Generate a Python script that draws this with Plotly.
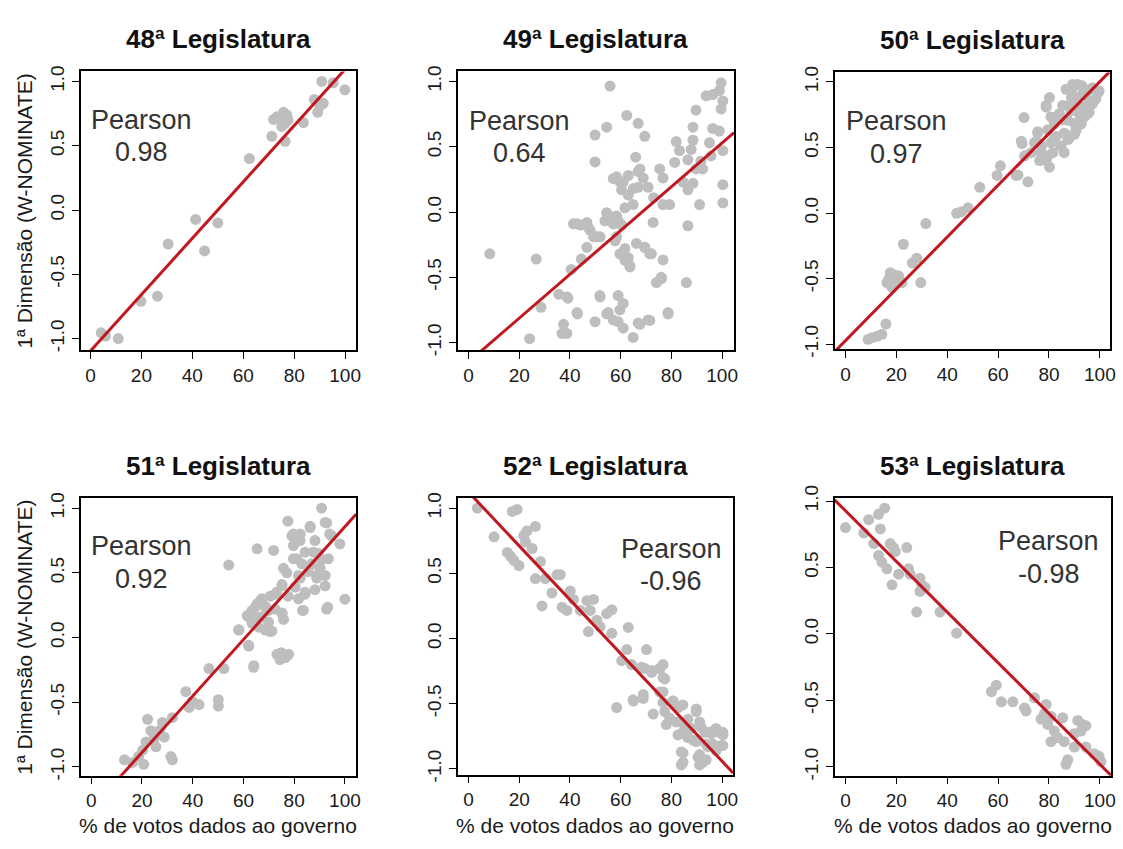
import plotly.graph_objects as go

# ---------------------------------------------------------------------------
# Data: % of votes given to the government (x) vs 1st W-NOMINATE dimension (y)
# ---------------------------------------------------------------------------
legislaturas = ["48ª Legislatura", "49ª Legislatura", "50ª Legislatura",
                "51ª Legislatura", "52ª Legislatura", "53ª Legislatura"]

pearson_r = [0.98, 0.64, 0.97, 0.92, -0.96, -0.98]

# regression line of each panel: y = intercept + slope * x
fit_intercept = [-1.096, -1.149, -0.973, -1.325, 1.124, 0.927]
fit_slope = [0.02191, 0.01679, 0.01975, 0.02182, -0.02066, -0.01907]

leg48_x = [4.2, 5.9, 10.9, 19.8, 26.3, 30.5, 41.3, 44.8, 50.0, 62.4, 71.2, 71.9,
           73.2, 75.8, 76.4, 75.1, 77.1, 76.4, 77.6, 83.6, 87.9, 89.2, 90.1, 90.8,
           91.4, 95.3, 99.9]
leg48_y = [-0.955, -0.98, -1.0, -0.71, -0.67, -0.265, -0.073, -0.318, -0.10, 0.40,
           0.573, 0.705, 0.725, 0.76, 0.675, 0.65, 0.74, 0.535, 0.70, 0.68, 0.86,
           0.76, 0.81, 1.0, 0.83, 0.99, 0.935]

leg49_x = [8.4, 26.7, 24.1, 28.6, 35.6, 39.2, 37.5, 38.8, 43.0, 36.9, 55.8, 49.9,
           54.5, 62.4, 66.9, 69.5, 49.9, 65.9, 58.4, 61.0, 66.9, 68.9, 60.4, 63.0,
           66.9, 70.8, 75.4, 76.7, 73.0, 76.7, 79.3, 64.9, 61.7, 54.5, 58.4, 57.1,
           53.8, 42.8, 46.7, 48.0, 50.6, 58.4, 61.7, 63.0, 63.6, 66.2, 69.5, 72.1,
           72.8, 76.7, 86.5, 74.1, 76.0, 85.9, 38.8, 51.8, 59.0, 61.0, 59.7, 42.8,
           49.9, 55.1, 57.1, 59.0, 61.0, 66.9, 70.8, 78.7, 64.9, 37.5, 99.6, 98.9,
           96.3, 93.7, 100.3, 99.6, 89.7, 88.5, 96.3, 98.9, 81.9, 88.5, 83.2, 87.8,
           95.0, 100.3, 91.6, 86.5, 84.6, 88.5, 89.7, 92.3, 100.3, 100.3, 91.1, 86.5,
           81.3, 95.6, 57.1, 59.7, 63.0, 65.0, 67.6, 56.5, 59.1, 60.4, 51.9, 57.8,
           59.7, 61.7, 63.7, 69.5, 71.5, 76.1, 78.7, 51.9, 54.5, 67.6, 71.5, 41.4,
           44.1, 47.3, 49.3, 46.7, 44.5, 40.5]
leg49_y = [-0.32, -0.36, -0.97, -0.73, -0.63, -0.66, -0.925, -0.93, -0.78, -0.93,
           0.965, 0.59, 0.65, 0.74, 0.68, 0.58, 0.384, 0.42, 0.27, 0.23, 0.31, 0.26,
           0.17, 0.13, 0.19, 0.19, 0.33, 0.26, 0.11, 0.057, 0.057, 0.057, 0.032,
           -0.005, -0.03, -0.09, -0.067, -0.09, -0.08, -0.14, -0.19, -0.19, -0.28,
           -0.35, -0.41, -0.24, -0.27, -0.32, -0.08, -0.367, -0.105, -0.54, -0.50,
           -0.54, -0.65, -0.64, -0.64, -0.70, -0.75, -0.77, -0.84, -0.77, -0.826,
           -0.84, -0.89, -0.85, -0.826, -0.77, -0.96, -0.86, 0.99, 0.93, 0.90, 0.89,
           0.85, 0.79, 0.78, 0.65, 0.64, 0.62, 0.54, 0.55, 0.47, 0.48, 0.53, 0.47,
           0.39, 0.40, 0.23, 0.22, 0.33, 0.33, 0.21, 0.07, 0.057, 0.17, 0.38, 0.43,
           0.256, 0.23, 0.28, 0.18, 0.33, -0.04, -0.07, -0.10, -0.19, -0.22, -0.32,
           -0.37, -0.42, -0.27, -0.32, -0.51, -0.78, -0.65, -0.78, -0.86, -0.83,
           -0.09, -0.10, -0.12, -0.19, -0.27, -0.36, -0.44]

leg50_x = [8.9, 10.4, 12.4, 14.3, 15.9, 17.0, 18.9, 17.6, 20.9, 16.3, 18.3, 19.6,
           22.2, 22.8, 26.3, 28.0, 29.6, 31.6, 43.7, 45.6, 48.2, 52.8, 59.6, 60.9,
           67.1, 70.2, 69.4, 71.7, 70.4, 73.0, 75.0, 75.6, 76.9, 78.9, 78.9, 80.2,
           79.5, 80.8, 82.1, 82.8, 84.1, 84.7, 86.0, 86.7, 87.4, 88.0, 88.7, 89.3,
           90.0, 91.3, 92.6, 93.2, 93.9, 95.2, 95.8, 97.1, 98.4, 99.7, 94.5, 85.4,
           83.4, 80.8, 90.6, 91.9, 81.5, 86.0, 87.4, 90.0, 92.6, 95.8, 78.9, 89.3,
           93.0, 96.1, 99.4, 88.8, 88.6, 85.4, 82.1, 75.6, 74.3, 69.1, 77.0, 79.5,
           82.1, 84.7, 88.0, 90.6, 92.6, 95.2, 97.1, 93.9, 76.3, 80.2, 67.8]
leg50_y = [-0.963, -0.95, -0.94, -0.925, -0.846, -0.505, -0.468, -0.455, -0.48,
           -0.53, -0.567, -0.505, -0.53, -0.238, -0.38, -0.344, -0.53, -0.08, -0.002,
           0.01, 0.04, 0.196, 0.287, 0.36, 0.287, 0.728, 0.53, 0.238, 0.436, 0.46,
           0.547, 0.61, 0.46, 0.40, 0.807, 0.88, 0.634, 0.535, 0.683, 0.584, 0.757,
           0.51, 0.609, 0.943, 0.708, 0.572, 0.832, 0.955, 0.683, 0.98, 0.807, 0.906,
           0.733, 0.93, 0.856, 0.955, 0.869, 0.93, 0.782, 0.82, 0.72, 0.733, 0.88,
           0.757, 0.46, 0.46, 0.56, 0.60, 0.68, 0.77, 0.82, 0.98, 0.97, 0.94, 0.92,
           0.88, 0.78, 0.71, 0.68, 0.62, 0.535, 0.548, 0.51, 0.436, 0.572, 0.51,
           0.585, 0.63, 0.68, 0.757, 0.832, 0.807, 0.40, 0.35, 0.29]

leg51_x = [13.1, 16.3, 20.7, 18.7, 21.6, 20.3, 22.2, 23.5, 24.8, 25.5, 26.8, 28.1,
           28.8, 31.4, 32.0, 32.0, 37.3, 38.6, 39.9, 42.5, 46.4, 50.1, 50.1, 52.3,
           54.2, 58.2, 62.1, 64.1, 62.1, 63.4, 64.7, 66.7, 65.4, 67.3, 68.6, 69.9,
           71.9, 70.6, 72.5, 73.2, 74.9, 76.5, 77.8, 75.2, 75.2, 75.8, 77.5, 79.1,
           79.7, 81.0, 82.4, 82.4, 83.3, 84.3, 86.3, 87.6, 88.9, 90.2, 90.8, 92.8,
           93.5, 93.2, 94.8, 98.0, 100.0, 86.3, 92.2, 79.7, 82.3, 88.2, 94.0, 84.3,
           89.5, 79.7, 83.0, 86.9, 90.8, 77.1, 81.7, 85.6, 88.9, 92.2, 92.2, 75.2,
           80.4, 84.3, 88.2, 81.7, 73.1, 77.6, 67.3, 70.6, 65.4, 63.4, 68.6, 72.5,
           75.2, 83.6, 92.8, 61.5, 64.7, 69.9, 75.8, 66.0, 71.2, 58.1, 62.0, 64.0,
           74.4]
leg51_y = [-0.945, -0.965, -0.98, -0.92, -0.807, -0.87, -0.632, -0.72, -0.78,
           -0.845, -0.72, -0.656, -0.77, -0.92, -0.945, -0.619, -0.418, -0.54,
           -0.494, -0.518, -0.24, -0.48, -0.53, -0.24, 0.56, 0.058, -0.066, -0.217,
           0.16, 0.11, 0.235, 0.285, 0.686, 0.16, 0.058, 0.21, 0.673, 0.046, 0.335,
           -0.13, -0.117, -0.155, -0.13, 0.185, 0.41, 0.535, 0.90, 0.786, 0.71, 0.61,
           0.80, 0.46, 0.21, 0.335, 0.86, 0.66, 0.46, 0.535, 1.0, 0.886, 0.61, 0.235,
           0.786, 0.724, 0.297, 0.85, 0.89, 0.80, 0.75, 0.75, 0.80, 0.66, 0.65, 0.61,
           0.57, 0.57, 0.60, 0.50, 0.48, 0.51, 0.48, 0.48, 0.40, 0.40, 0.39, 0.35,
           0.37, 0.30, 0.35, 0.32, 0.30, 0.32, 0.26, 0.21, 0.24, 0.22, 0.19, 0.21,
           0.22, 0.17, 0.16, 0.12, 0.14, 0.08, 0.05, 0.06, -0.06, -0.23, -0.17]

leg52_x = [3.5, 10.1, 17.3, 19.2, 15.3, 16.6, 17.9, 19.9, 21.8, 23.1, 26.4, 22.5,
           25.1, 26.4, 28.4, 29.0, 30.3, 32.9, 34.9, 36.2, 36.9, 38.8, 40.1, 41.4,
           44.1, 46.7, 48.0, 49.3, 47.3, 50.6, 51.9, 54.5, 56.5, 56.5, 63.0, 58.4,
           60.4, 62.4, 64.3, 65.0, 68.9, 70.2, 69.5, 72.2, 72.8, 75.4, 76.7, 77.4,
           75.4, 77.4, 79.3, 78.0, 80.7, 82.6, 83.9, 85.2, 83.9, 84.6, 86.5, 87.8,
           89.8, 89.8, 91.1, 91.1, 92.4, 93.1, 94.4, 95.7, 96.3, 97.6, 99.6, 100.3,
           68.2, 72.2, 75.4, 76.7, 64.9, 68.9, 76.7, 76.7, 80.6, 84.5, 89.8, 81.9,
           85.2, 86.5, 91.7, 95.0, 98.9, 100.3, 82.6, 88.5, 93.7, 100.3, 83.9, 90.5,
           93.7, 84.6, 91.1, 97.6]
leg52_y = [1.0, 0.78, 0.975, 0.99, 0.66, 0.63, 0.60, 0.56, 0.79, 0.825, 0.86, 0.74,
           0.69, 0.46, 0.59, 0.25, 0.46, 0.35, 0.49, 0.49, 0.24, 0.215, 0.365, 0.30,
           0.215, 0.29, 0.215, 0.30, 0.053, 0.14, 0.09, 0.19, 0.22, 0.04, 0.085,
           -0.53, -0.17, -0.085, -0.20, -0.48, -0.46, -0.085, -0.23, -0.26, -0.58,
           -0.23, -0.20, -0.31, -0.41, -0.56, -0.61, -0.66, -0.48, -0.53, -0.73,
           -0.66, -0.97, -0.88, -0.76, -0.69, -0.54, -0.79, -0.64, -0.89, -0.95,
           -0.72, -0.83, -0.73, -0.81, -0.69, -0.82, -0.72, -0.22, -0.245, -0.23,
           -0.30, -0.47, -0.43, -0.41, -0.49, -0.48, -0.51, -0.56, -0.64, -0.69,
           -0.62, -0.68, -0.72, -0.72, -0.74, -0.74, -0.78, -0.81, -0.82, -0.87,
           -0.91, -0.93, -0.95, -0.97, -0.86]

leg53_x = [0.0, 9.1, 7.2, 13.0, 15.4, 13.7, 11.1, 13.0, 14.3, 16.3, 17.6, 18.9,
           19.6, 18.3, 20.9, 24.1, 24.8, 25.4, 28.0, 29.3, 30.0, 29.3, 31.3, 37.2,
           43.7, 57.4, 59.3, 61.3, 65.8, 70.4, 74.3, 78.9, 76.9, 79.5, 80.8, 82.1,
           85.4, 87.4, 86.7, 90.0, 91.3, 93.2, 94.5, 92.6, 90.0, 94.5, 97.8, 99.7,
           100.4, 83.4, 86.0, 80.8, 78.2, 71.0]
leg53_y = [0.80, 0.86, 0.76, 0.90, 0.946, 0.79, 0.68, 0.59, 0.54, 0.49, 0.68, 0.65,
           0.62, 0.37, 0.45, 0.65, 0.49, 0.45, 0.165, 0.42, 0.37, 0.32, 0.35, 0.165,
           0.006, -0.434, -0.385, -0.51, -0.51, -0.556, -0.48, -0.53, -0.64, -0.68,
           -0.81, -0.73, -0.63, -0.946, -0.98, -0.75, -0.65, -0.68, -0.69, -0.73,
           -0.85, -0.85, -0.90, -0.92, -0.96, -0.78, -0.81, -0.62, -0.60, -0.58]

series_x = [leg48_x, leg49_x, leg50_x, leg51_x, leg52_x, leg53_x]
series_y = [leg48_y, leg49_y, leg50_y, leg51_y, leg52_y, leg53_y]

x_ticks = [0, 20, 40, 60, 80, 100]
y_ticks = [-1.0, -0.5, 0.0, 0.5, 1.0]
y_ticktext = ["-1.0", "-0.5", "0.0", "0.5", "1.0"]

# ---------------------------------------------------------------------------
# Layout of the 2 x 3 grid (pixel boxes of each plotting region)
# ---------------------------------------------------------------------------
W, H = 1123, 849
boxes = [(81, 358, 60, 346), (460, 738, 60, 346), (839, 1116, 61, 345),
         (81, 358, 498, 783), (460, 737, 498, 782), (839, 1117, 498, 783)]
x_ranges = [(-3.9, 104.3), (-4.3, 104.7), (-4.3, 104.0),
            (-4.2, 104.4), (-4.3, 104.3), (-4.3, 104.4)]
y_ranges = [(-1.089, 1.078), (-1.057, 1.077), (-1.037, 1.072),
            (-1.068, 1.078), (-1.045, 1.077), (-1.066, 1.022)]
# where the "Pearson" label and its value sit (data units)
label_pos = [(20, 0.70, 0.455), (20, 0.70, 0.45), (20, 0.70, 0.45),
             (20, 0.71, 0.45), (80, 0.69, 0.44), (80, 0.70, 0.45)]

FONT = "Liberation Sans, Arial, sans-serif"
POINT_COLOR = "#BEBEBE"
LINE_COLOR = "#C0181E"

fig = go.Figure()
layout = dict(
    width=W, height=H,
    margin=dict(l=0, r=0, t=0, b=0),
    paper_bgcolor="white", plot_bgcolor="white",
    showlegend=False,
    font=dict(family=FONT, color="#1a1a1a"),
)
annotations = []

for i in range(6):
    left, right, top, bottom = boxes[i]
    xa = "xaxis" if i == 0 else f"xaxis{i + 1}"
    ya = "yaxis" if i == 0 else f"yaxis{i + 1}"
    xref = "x" if i == 0 else f"x{i + 1}"
    yref = "y" if i == 0 else f"y{i + 1}"

    fig.add_trace(go.Scatter(
        x=series_x[i], y=series_y[i], mode="markers",
        marker=dict(color=POINT_COLOR, size=11, line=dict(width=0)),
        xaxis=xref, yaxis=yref, hoverinfo="x+y",
    ))

    x0, x1 = x_ranges[i]
    fig.add_trace(go.Scatter(
        x=[x0, x1],
        y=[fit_intercept[i] + fit_slope[i] * x0, fit_intercept[i] + fit_slope[i] * x1],
        mode="lines", line=dict(color=LINE_COLOR, width=3),
        xaxis=xref, yaxis=yref, hoverinfo="skip",
    ))

    layout[xa] = dict(
        domain=[left / W, right / W], anchor=yref, range=list(x_ranges[i]),
        tickmode="array", tickvals=x_ticks, ticks="outside", ticklen=7,
        tickwidth=1.3, tickcolor="black", showline=True, linecolor="black",
        linewidth=1.5, mirror=True, showgrid=False, zeroline=False,
        tickfont=dict(size=19, color="#1a1a1a"),
    )
    layout[ya] = dict(
        domain=[1 - bottom / H, 1 - top / H], anchor=xref, range=list(y_ranges[i]),
        tickmode="array", tickvals=y_ticks, ticktext=y_ticktext, ticks="outside",
        ticklen=7, tickwidth=1.3, tickcolor="black", tickangle=-90,
        showline=True, linecolor="black", linewidth=1.5, mirror=True,
        showgrid=False, zeroline=False, tickfont=dict(size=19, color="#1a1a1a"),
    )

    # panel title
    annotations.append(dict(
        text=f"<b>{legislaturas[i]}</b>", xref="paper", yref="paper",
        x=(left + right) / 2 / W, y=1 - (top - 33) / H,
        xanchor="center", yanchor="middle", showarrow=False,
        font=dict(size=26, color="#111111", family=FONT),
    ))

    # correlation label
    lx, ly1, ly2 = label_pos[i]
    annotations.append(dict(
        text="Pearson", xref=xref, yref=yref, x=lx, y=ly1,
        xanchor="center", yanchor="middle", showarrow=False,
        font=dict(size=27, color="#333333", family=FONT),
    ))
    annotations.append(dict(
        text=f"{pearson_r[i]:.2f}", xref=xref, yref=yref, x=lx, y=ly2,
        xanchor="center", yanchor="middle", showarrow=False,
        font=dict(size=27, color="#333333", family=FONT),
    ))

    # axis titles: y on the left column, x on the bottom row
    if i in (0, 3):
        annotations.append(dict(
            text="1ª Dimensão (W-NOMINATE)", xref="paper", yref="paper",
            x=25 / W, y=1 - (top + bottom) / 2 / H, textangle=-90,
            xanchor="center", yanchor="middle", showarrow=False,
            font=dict(size=21, color="#1a1a1a", family=FONT),
        ))
    if i >= 3:
        annotations.append(dict(
            text="% de votos dados ao governo", xref="paper", yref="paper",
            x=(left + right) / 2 / W, y=1 - 834 / H,
            xanchor="center", yanchor="middle", showarrow=False,
            font=dict(size=21, color="#1a1a1a", family=FONT),
        ))

layout["annotations"] = annotations
fig.update_layout(**layout)
# the page body gets no default margin, so the figure fills the window exactly
fig.write_html("out.html", post_script="document.body.style.margin='0';")
